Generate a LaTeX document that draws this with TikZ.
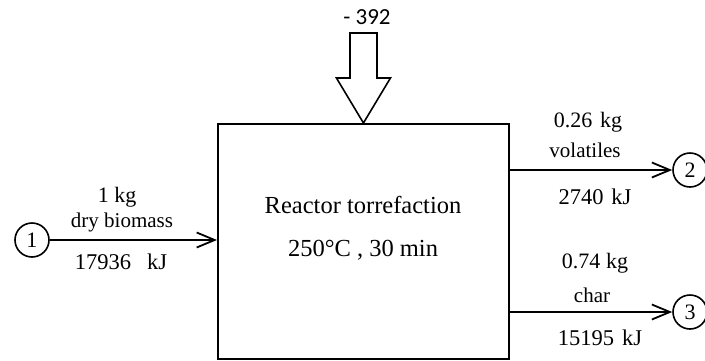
\documentclass[tikz,border=0pt]{standalone}
\usepackage{fontspec}
\setmainfont{Liberation Serif}
\newfontfamily\valuefont{Carlito}
\usepackage{tikz}
\usetikzlibrary{positioning, arrows.meta, calc}

\begin{document}
\begin{tikzpicture}[
    x=1pt, y=-1pt,
    >={Straight Barb[length=18pt, width=15pt, line width=1.8pt]},
    flow/.style={->, line width=1.9pt},
    stream/.style={circle, draw, line width=1.6pt, minimum size=34pt, inner sep=0pt, font=\fontsize{22}{24}\selectfont},
    mass/.style={inner sep=0pt, font=\fontsize{22}{24}\selectfont},
    kind/.style={inner sep=0pt, font=\fontsize{21}{23}\selectfont},
    energy/.style={inner sep=0pt, font=\fontsize{22.5}{24}\selectfont},
    reactortext/.style={inner sep=0pt, font=\fontsize{24.5}{26}\selectfont}
]
    \useasboundingbox (0,0) rectangle (705,360);

    % Reactor
    \node[draw, line width=1.9pt, anchor=north west, minimum width=291pt, minimum height=235pt] (reactor) at (217,123) {};
    \node[reactortext] (rname) at (363,205) {Reactor torrefaction};
    \node[reactortext] (rcond) at (363,250) {250\textdegree C , 30 min};

    % Heat input
    \coordinate (tip) at (reactor.north);
    \draw[line width=1.6pt, fill=white]
        ($(tip)+(-13.5,-90)$) -- ($(tip)+(13.5,-90)$) -- ($(tip)+(13.5,-45)$)
        -- ($(tip)+(27,-45)$) -- (tip) -- ($(tip)+(-27,-45)$)
        -- ($(tip)+(-13.5,-45)$) -- cycle;
    \node[inner sep=0pt, font=\valuefont\fontsize{23}{25}\selectfont] (heat) at (367,17) {- 392};

    % Streams 1, 2, 3
    \node[stream] (s1) at (32,240) {1};
    \node[stream] (s2) at (690,170) {2};
    \node[stream] (s3) at (690,312) {3};

    \draw[flow] (s1) -- (reactor.west |- s1);
    \draw[flow] (reactor.east |- s2) -- (s2);
    \draw[flow] (reactor.east |- s3) -- (s3);

    % Stream labels
    \node[mass]   (m1) at (117,197) {1 kg};
    \node[kind]   (k1) at (122,222) {dry biomass};
    \node[energy] (e1) at (121,262) {17936\hspace{16pt}kJ};

    \node[mass]   (m2) at (588,122) {0.26\hspace{8pt}kg};
    \node[kind]   (k2) at (585,150) {volatiles};
    \node[energy] (e2) at (595,197) {2740\hspace{8pt}kJ};

    \node[mass]   (m3) at (595,263) {0.74\hspace{6pt}kg};
    \node[kind]   (k3) at (592,295) {char};
    \node[energy] (e3) at (600,338) {15195\hspace{8pt}kJ};
\end{tikzpicture}
\end{document}
